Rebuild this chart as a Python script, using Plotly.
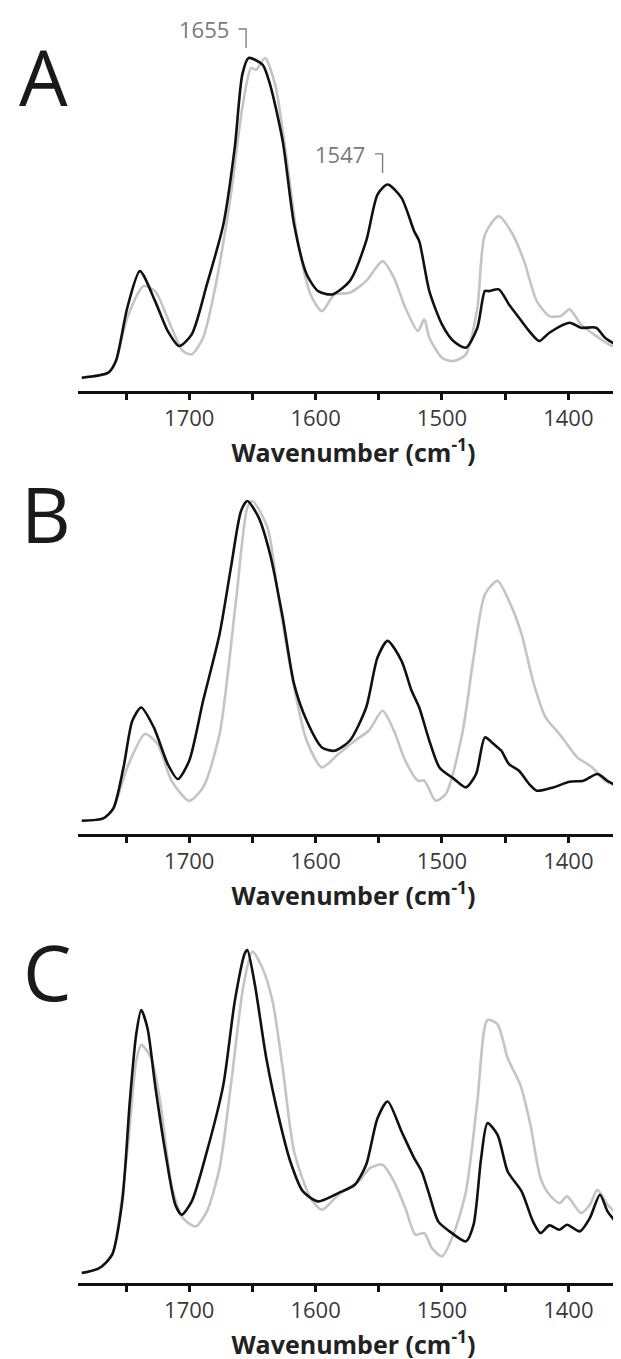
import plotly.graph_objects as go

# ---- panel A ----
a_wn_black = [1785, 1764, 1758, 1749, 1739, 1727, 1717, 1708, 1698, 1686, 1673, 1664, 1658, 1653, 1642, 1636,
              1626, 1617, 1607, 1598, 1587, 1573, 1560, 1551, 1543, 1532, 1522, 1518, 1510, 1500, 1491, 1481,
              1472, 1466, 1463, 1455, 1447, 1441, 1431, 1423, 1415, 1399, 1390, 1378, 1371, 1358, 1350]
a_black = [0.04, 0.055, 0.09, 0.25, 0.36, 0.27, 0.18, 0.135, 0.17, 0.32, 0.50, 0.73, 0.95, 1.0, 0.98, 0.92,
           0.75, 0.50, 0.35, 0.30, 0.29, 0.33, 0.45, 0.59, 0.62, 0.58, 0.48, 0.45, 0.30, 0.20, 0.15, 0.13,
           0.19, 0.30, 0.30, 0.305, 0.26, 0.23, 0.18, 0.15, 0.175, 0.205, 0.19, 0.19, 0.16, 0.13, 0.115]
a_wn_grey = [1785, 1764, 1758, 1749, 1736, 1727, 1714, 1705, 1698, 1689, 1680, 1667, 1658, 1651, 1647, 1640,
             1632, 1623, 1614, 1604, 1595, 1585, 1573, 1560, 1547, 1538, 1529, 1519, 1514, 1510, 1500, 1491,
             1481, 1472, 1466, 1455, 1444, 1435, 1425, 1415, 1406, 1399, 1390, 1378, 1368, 1350]
a_grey = [0.04, 0.055, 0.09, 0.22, 0.315, 0.30, 0.19, 0.12, 0.11, 0.16, 0.30, 0.59, 0.85, 0.97, 0.965, 1.0,
          0.92, 0.70, 0.45, 0.29, 0.24, 0.29, 0.295, 0.33, 0.39, 0.34, 0.25, 0.18, 0.215, 0.16, 0.10, 0.09,
          0.11, 0.25, 0.47, 0.525, 0.47, 0.39, 0.27, 0.225, 0.225, 0.245, 0.20, 0.165, 0.14, 0.11]

# ---- panel B ----
b_wn_black = [1785, 1768, 1760, 1752, 1745, 1738, 1728, 1717, 1709, 1700, 1689, 1676, 1667, 1659, 1654, 1645,
              1636, 1626, 1617, 1607, 1595, 1585, 1573, 1560, 1551, 1543, 1532, 1524, 1518, 1510, 1502, 1491,
              1481, 1473, 1466, 1459, 1453, 1447, 1439, 1431, 1425, 1412, 1399, 1388, 1377, 1368, 1358, 1350]
b_black = [0.04, 0.047, 0.077, 0.20, 0.34, 0.38, 0.32, 0.21, 0.165, 0.22, 0.40, 0.60, 0.80, 0.97, 1.0, 0.95,
           0.84, 0.65, 0.45, 0.34, 0.26, 0.25, 0.28, 0.38, 0.53, 0.58, 0.52, 0.43, 0.38, 0.28, 0.20, 0.167,
           0.14, 0.18, 0.29, 0.27, 0.25, 0.21, 0.19, 0.15, 0.13, 0.14, 0.157, 0.16, 0.18, 0.157, 0.14, 0.14]
b_wn_grey = [1785, 1768, 1760, 1749, 1735, 1725, 1714, 1700, 1689, 1676, 1663, 1654, 1650, 1638, 1629, 1618,
             1607, 1595, 1582, 1569, 1558, 1547, 1538, 1529, 1519, 1514, 1505, 1497, 1484, 1475, 1466, 1456,
             1447, 1437, 1428, 1418, 1407, 1403, 1393, 1381, 1371, 1358, 1350]
b_grey = [0.04, 0.047, 0.077, 0.20, 0.30, 0.27, 0.16, 0.10, 0.14, 0.30, 0.70, 0.98, 1.0, 0.92, 0.70, 0.46,
          0.28, 0.20, 0.24, 0.28, 0.31, 0.37, 0.31, 0.22, 0.16, 0.16, 0.10, 0.12, 0.30, 0.53, 0.72, 0.76,
          0.70, 0.60, 0.46, 0.35, 0.30, 0.28, 0.23, 0.20, 0.16, 0.14, 0.14]

# ---- panel C ----
c_wn_black = [1785, 1771, 1761, 1753, 1747, 1742, 1738, 1733, 1727, 1719, 1711, 1706, 1698, 1686, 1673, 1664,
              1656, 1654, 1648, 1639, 1629, 1620, 1610, 1598, 1582, 1569, 1560, 1551, 1543, 1532, 1522, 1516,
              1510, 1503, 1494, 1481, 1475, 1469, 1464, 1456, 1448, 1437, 1428, 1422, 1415, 1407, 1401, 1391,
              1383, 1375, 1369, 1364, 1356, 1350]
c_black = [0.03, 0.045, 0.085, 0.245, 0.545, 0.745, 0.82, 0.765, 0.595, 0.395, 0.235, 0.205, 0.245, 0.395, 0.595, 0.845,
           0.99, 1.0, 0.895, 0.675, 0.495, 0.365, 0.275, 0.245, 0.27, 0.295, 0.355, 0.495, 0.545, 0.455, 0.375, 0.335,
           0.265, 0.185, 0.155, 0.125, 0.175, 0.375, 0.48, 0.445, 0.335, 0.275, 0.185, 0.15, 0.173, 0.16, 0.175, 0.155,
           0.195, 0.265, 0.215, 0.19, 0.145, 0.125]
c_wn_grey = [1785, 1771, 1761, 1749, 1742, 1738, 1730, 1723, 1714, 1705, 1695, 1686, 1676, 1667, 1657, 1650,
             1642, 1634, 1626, 1617, 1604, 1595, 1582, 1566, 1557, 1547, 1538, 1529, 1521, 1514, 1508, 1500,
             1491, 1481, 1472, 1464, 1456, 1448, 1438, 1430, 1422, 1415, 1407, 1401, 1390, 1383, 1377, 1369,
             1364, 1356, 1350]
c_grey = [0.03, 0.045, 0.085, 0.395, 0.665, 0.715, 0.675, 0.545, 0.295, 0.195, 0.17, 0.215, 0.345, 0.595, 0.895, 0.995,
          0.945, 0.845, 0.645, 0.395, 0.255, 0.22, 0.265, 0.305, 0.345, 0.355, 0.305, 0.225, 0.145, 0.15, 0.105, 0.08,
          0.145, 0.275, 0.545, 0.79, 0.777, 0.675, 0.595, 0.475, 0.315, 0.265, 0.24, 0.26, 0.21, 0.235, 0.28, 0.235,
          0.215, 0.155, 0.13]

panels = [
    ("A", a_wn_grey, a_grey, a_wn_black, a_black),
    ("B", b_wn_grey, b_grey, b_wn_black, b_black),
    ("C", c_wn_grey, c_grey, c_wn_black, c_black),
]

# pixel layout of the 621x1359 picture
W, H = 621, 1359
ML = 70
axis_px = [383, 826, 1275]     # y pixel of each x-axis line
unit_px = 333                  # pixels per absorbance unit
y_top = 1.1
letter_px = [(9, 68), (11, 505), (13, 963)]

FONT = "Open Sans"
fig = go.Figure()

for i, (name, wg, g, wb, b) in enumerate(panels):
    n = "" if i == 0 else str(i + 1)
    fig.add_trace(go.Scatter(x=wg, y=g, mode="lines", xaxis="x" + n, yaxis="y" + n,
                             line=dict(color="#c4c4c4", width=2.6, shape="spline", smoothing=0.7),
                             hoverinfo="skip"))
    fig.add_trace(go.Scatter(x=wb, y=b, mode="lines", xaxis="x" + n, yaxis="y" + n,
                             line=dict(color="#111111", width=2.6, shape="spline", smoothing=0.7),
                             hoverinfo="skip"))

    bot = (H - axis_px[i]) / H
    top = (H - (axis_px[i] - y_top * unit_px)) / H
    fig.update_layout({
        "xaxis" + n: dict(
            domain=[0, 1], anchor="y" + n, range=[1788, 1352],
            showline=True, linewidth=3, linecolor="#111",
            ticks="outside", tickvals=[1700, 1600, 1500, 1400], ticklen=6, tickwidth=2.5, tickcolor="#111",
            minor=dict(tickvals=[1750, 1650, 1550, 1450], ticks="outside", ticklen=6, tickwidth=2.5, tickcolor="#111"),
            tickfont=dict(family=FONT, size=22, color="#3a3a3a"),
            showgrid=False, zeroline=False, fixedrange=True,
            title=dict(text="<b>Wavenumber (cm<sup>-1</sup>)</b>", font=dict(family=FONT, size=25, color="#222"),
                       standoff=6),
        ),
        "yaxis" + n: dict(domain=[bot, top], range=[0, y_top], visible=False, fixedrange=True),
    })

    lx, ly = letter_px[i]
    fig.add_annotation(text=name, xref="paper", yref="paper", x=(lx - ML) / (W - ML), y=(H - ly) / H,
                       xanchor="left", yanchor="middle", showarrow=False,
                       font=dict(family=FONT, size=77, color="#1a1a1a"))

# peak labels on panel A
peak_wn = [1655, 1547]
peak_lab = ["1655", "1547"]
peak_y = [1.087, 0.712]
peak_drop = [1.030, 0.655]
for wn, lab, yt, yb in zip(peak_wn, peak_lab, peak_y, peak_drop):
    fig.add_trace(go.Scatter(x=[wn + 6, wn, wn], y=[yt, yt, yb], mode="lines", xaxis="x", yaxis="y",
                             line=dict(color="#808080", width=1.4), hoverinfo="skip"))
    fig.add_annotation(text=lab, xref="x", yref="y", x=wn + 12, y=yt, xanchor="right", yanchor="middle",
                       showarrow=False, font=dict(family=FONT, size=22, color="#7a7a7a"))

fig.update_layout(width=W, height=H, margin=dict(l=ML, r=0, t=0, b=0),
                  plot_bgcolor="white", paper_bgcolor="white", showlegend=False)

fig.write_html("out.html")
